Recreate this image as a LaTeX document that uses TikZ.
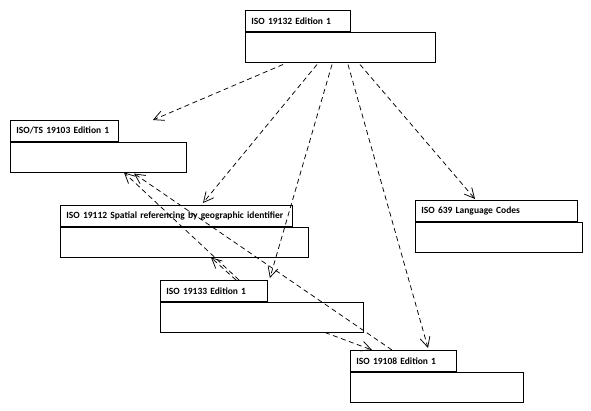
\documentclass[tikz,border=0pt]{standalone}
\usepackage{fontspec}
\setmainfont{Carlito}
\usetikzlibrary{arrows.meta,calc}

\tikzset{
  pkgtab/.style={draw, line width=0.9pt, fill=white, anchor=north west,
    minimum height=20.7pt, inner ysep=0pt, inner xsep=6pt,
    align=left, font=\bfseries\fontsize{9.5}{11}\selectfont},
  pkgbody/.style={draw, line width=0.9pt, fill=white, anchor=north west,
    minimum height=30pt, inner sep=0pt},
  dep/.style={line width=0.75pt, dash pattern=on 5pt off 3.5pt,
    -{Straight Barb[length=10pt,width=10pt,line width=0.75pt]}}
}

\begin{document}
\begin{tikzpicture}[x=1pt,y=-1pt]
  \useasboundingbox (0,0) rectangle (591,410);

  % package tabs (title) and bodies
  \node[pkgtab, minimum width=105pt, text width=93pt] (t19132) at (245,10) {ISO 19132 Edition 1};
  \node[pkgbody, minimum width=190pt] (b19132) at (t19132.south west) {};

  \node[pkgtab, minimum width=108pt, text width=96pt] (t19103) at (10,120) {ISO/TS 19103 Edition 1};
  \node[pkgbody, minimum width=176pt] (b19103) at (t19103.south west) {};

  \node[pkgtab, minimum width=232pt, text width=220pt] (t19112) at (60,205) {ISO 19112 Spatial referencing by geographic identifier};
  \node[pkgbody, minimum width=248pt] (b19112) at (t19112.south west) {};

  \node[pkgtab, minimum width=162pt, text width=150pt] (t639) at (415,200) {ISO 639 Language Codes};
  \node[pkgbody, minimum width=167pt] (b639) at (t639.south west) {};

  \node[pkgtab, minimum width=107pt, text width=95pt] (t19133) at (160,280) {ISO 19133 Edition 1};
  \node[pkgbody, minimum width=203pt] (b19133) at (t19133.south west) {};

  \node[pkgtab, minimum width=106pt, text width=94pt] (t19108) at (350,350) {ISO 19108 Edition 1};
  \node[pkgbody, minimum width=173pt] (b19108) at (t19108.south west) {};

  % dependencies of ISO 19132
  \draw[dep] ($(b19132.south west)+(38,2)$) -- ($(t19103.north east)+(34,0)$);
  \draw[dep] ($(b19132.south west)+(72,2)$) -- ($(t19112.north west)+(143,-2)$);
  \draw[dep] ($(b19132.south west)+(87,2)$) -- ($(t19133.north east)+(2,-2)$);
  \draw[dep] ($(b19132.south west)+(103,2)$) -- ($(t19108.north west)+(78,-2)$);
  \draw[dep] ($(b19132.south west)+(115,2)$) -- ($(t639.north west)+(60,-1)$);

  % dependencies of ISO 19133
  \draw[dep] ($(t19133.north west)+(79,0)$) -- ($(b19103.south west)+(114,0)$);
  \draw[dep] ($(t19133.north west)+(76,0)$) -- ($(b19112.south west)+(151,0)$);
  \draw[dep] ($(b19133.south west)+(165,0)$) -- ($(t19108.north west)+(22,0)$);

  % dependency of ISO 19108
  \draw[dep] ($(t19108.north west)+(42,0)$) -- ($(b19103.south west)+(124,1)$);
\end{tikzpicture}
\end{document}
